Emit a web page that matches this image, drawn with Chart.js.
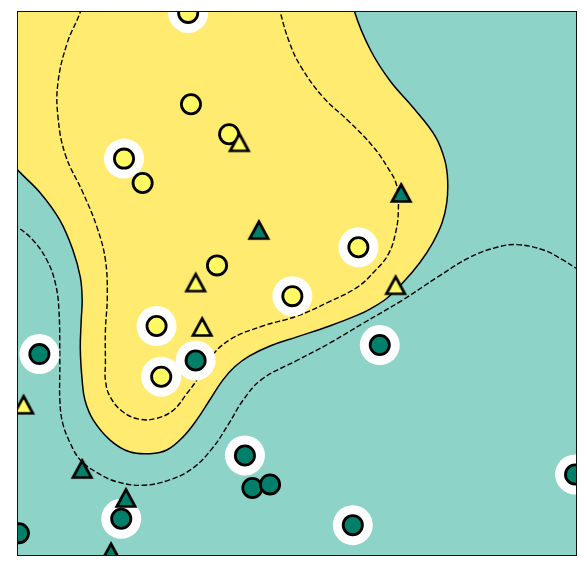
<!DOCTYPE html>
<html>
<head>
<meta charset="utf-8">
<script src="https://cdn.jsdelivr.net/npm/chart.js@4.4.1/dist/chart.umd.min.js"></script>
<style>
  html, body { margin: 0; padding: 0; background: #ffffff; }
  canvas { display: block; }
</style>
</head>
<body>
<canvas id="chart" width="587" height="573"></canvas>
<script>
// ---- axis ranges ----
const xRange = [-3, 3];
const yRange = [-3, 3];

// ---- observations (x, y) ----
const yellowCircles = [
  [-1.17, 2.99], [-1.14, 1.98], [-0.73, 1.65], [-1.86, 1.38], [-1.66, 1.11],
  [-0.86, 0.20], [0.66, 0.40], [-0.05, -0.14], [-1.51, -0.47], [-1.46, -1.03]
];
const yellowTriangles = [
  [-0.62, 1.56], [-1.09, 0.01], [1.06, -0.02], [-1.02, -0.48], [-2.94, -1.34]
];
const tealCircles = [
  [-1.09, -0.85], [-2.77, -0.78], [0.89, -0.68], [-0.56, -1.90], [-0.48, -2.26],
  [-0.29, -2.22], [-1.89, -2.60], [-2.99, -2.76], [0.60, -2.67], [2.99, -2.11]
];
const tealTriangles = [
  [-0.41, 0.59], [1.12, 1.00], [-2.31, -2.05], [-1.84, -2.37], [-2.00, -2.97]
];
const supportVectors = [
  [-1.17, 2.99], [-1.86, 1.38], [0.66, 0.40], [-0.05, -0.14], [-1.51, -0.47],
  [-1.09, -0.85], [-1.46, -1.03], [-2.77, -0.78], [0.89, -0.68], [-0.56, -1.90],
  [-1.89, -2.60], [0.60, -2.67], [2.99, -2.11]
];

// ---- decision function contours (level 0 closed region, levels +1 / -1) ----
const decisionBoundary = [
  [0.59, 3.24], [0.62, 3.00], [0.79, 2.58], [1.00, 2.24], [1.26, 1.93], [1.49, 1.62],
  [1.59, 1.36], [1.62, 1.14], [1.61, 0.89], [1.56, 0.67], [1.46, 0.45], [1.32, 0.23],
  [1.14, 0.01], [0.97, -0.16], [0.79, -0.28], [0.65, -0.35], [0.35, -0.47],
  [0.00, -0.59], [-0.29, -0.69], [-0.51, -0.80], [-0.67, -0.92], [-0.80, -1.07],
  [-0.94, -1.29], [-1.08, -1.51], [-1.23, -1.70], [-1.40, -1.84], [-1.58, -1.88],
  [-1.80, -1.86], [-2.01, -1.73], [-2.19, -1.51], [-2.28, -1.29], [-2.31, -1.07],
  [-2.33, -0.73], [-2.32, -0.40], [-2.31, -0.18], [-2.33, 0.07], [-2.41, 0.37],
  [-2.55, 0.70], [-2.76, 1.00], [-3.00, 1.25], [-3.19, 1.48], [-3.35, 3.35], [0.50, 3.40]
];
const marginPositive = [
  [-2.31, 3.13], [-2.33, 3.00], [-2.47, 2.66], [-2.57, 2.22], [-2.57, 1.84],
  [-2.49, 1.42], [-2.30, 1.00], [-2.15, 0.62], [-2.06, 0.26], [-2.04, -0.15],
  [-2.06, -0.51], [-2.06, -0.88], [-2.06, -1.07], [-2.01, -1.25], [-1.87, -1.42],
  [-1.69, -1.50], [-1.51, -1.49], [-1.33, -1.40], [-1.18, -1.21], [-1.08, -1.07],
  [-0.96, -0.85], [-0.72, -0.62], [-0.37, -0.47], [0.00, -0.36], [0.35, -0.20],
  [0.65, -0.04], [0.83, 0.13], [0.98, 0.32], [1.06, 0.56], [1.09, 0.81],
  [1.07, 1.09], [0.97, 1.29], [0.82, 1.51], [0.57, 1.78], [0.28, 2.06],
  [0.04, 2.40], [-0.08, 2.66], [-0.18, 3.00], [-0.20, 3.13]
];
const marginNegative = [
  [-3.19, 0.75], [-3.00, 0.62], [-2.84, 0.48], [-2.69, 0.26], [-2.60, 0.01],
  [-2.56, -0.29], [-2.55, -0.88], [-2.55, -1.29], [-2.52, -1.54], [-2.44, -1.76],
  [-2.33, -1.95], [-2.15, -2.09], [-1.94, -2.19], [-1.66, -2.23], [-1.37, -2.17],
  [-1.12, -2.04], [-0.91, -1.82], [-0.74, -1.56], [-0.58, -1.29], [-0.38, -1.06],
  [0.00, -0.85], [0.35, -0.66], [0.71, -0.44], [1.14, -0.18], [1.51, 0.07],
  [1.86, 0.29], [2.15, 0.40], [2.37, 0.43], [2.65, 0.37], [2.86, 0.26],
  [3.00, 0.17], [3.15, 0.08]
];

// ---- styles ----
const colors = {
  background: '#8dd3c7',
  region: '#ffeb70',
  yellowPoint: '#fffa64',
  tealPoint: '#00806a',
  ink: '#000000'
};

const toPts = arr => arr.map(([x, y]) => ({ x, y }));

function makeTriangle(fill) {
  const c = document.createElement('canvas');
  c.width = 30; c.height = 30;
  const g = c.getContext('2d');
  g.beginPath();
  g.moveTo(15, 15 - 8.5);
  g.lineTo(15 + 9.2, 15 + 8.5);
  g.lineTo(15 - 9.2, 15 + 8.5);
  g.closePath();
  g.fillStyle = fill;
  g.fill();
  g.lineWidth = 2.7;
  g.lineJoin = 'miter';
  g.strokeStyle = colors.ink;
  g.stroke();
  return c;
}

const framePlugin = {
  id: 'plotFrame',
  beforeDatasetsDraw(chart) {
    const { ctx, chartArea: a } = chart;
    ctx.save();
    ctx.fillStyle = colors.background;
    ctx.fillRect(a.left, a.top, a.right - a.left, a.bottom - a.top);
    ctx.restore();
  },
  afterDatasetsDraw(chart) {
    const { ctx, chartArea: a } = chart;
    ctx.save();
    ctx.strokeStyle = '#111111';
    ctx.lineWidth = 1;
    ctx.strokeRect(Math.round(a.left) - 0.5, Math.round(a.top) - 0.5,
                   Math.round(a.right - a.left) + 1, Math.round(a.bottom - a.top) + 1);
    ctx.restore();
  }
};

const hiddenAxis = (range) => ({
  type: 'linear',
  display: false,
  min: range[0],
  max: range[1]
});

new Chart(document.getElementById('chart'), {
  type: 'scatter',
  data: {
    datasets: [
      {
        type: 'line', label: 'decision region', data: toPts(decisionBoundary),
        fill: 'shape', backgroundColor: colors.region, borderColor: colors.ink,
        borderWidth: 1.5, pointRadius: 0, tension: 0.4, capBezierPoints: false, order: 10
      },
      {
        type: 'line', label: 'margin +1', data: toPts(marginPositive),
        fill: false, borderColor: colors.ink, borderWidth: 1.4, borderDash: [5.5, 2.4],
        pointRadius: 0, tension: 0.4, capBezierPoints: false, order: 9
      },
      {
        type: 'line', label: 'margin -1', data: toPts(marginNegative),
        fill: false, borderColor: colors.ink, borderWidth: 1.4, borderDash: [5.5, 2.4],
        pointRadius: 0, tension: 0.4, capBezierPoints: false, order: 8
      },
      {
        label: 'support vectors', data: toPts(supportVectors),
        pointRadius: 20, backgroundColor: '#ffffff', borderWidth: 0, clip: 0, order: 5
      },
      {
        label: 'class 1', data: toPts(yellowCircles),
        pointRadius: 9.6, backgroundColor: colors.yellowPoint, borderColor: colors.ink,
        borderWidth: 2.8, clip: 0, order: 3
      },
      {
        label: 'class 0', data: toPts(tealCircles),
        pointRadius: 9.6, backgroundColor: colors.tealPoint, borderColor: colors.ink,
        borderWidth: 2.8, clip: 0, order: 3
      },
      {
        label: 'class 1 (test)', data: toPts(yellowTriangles),
        pointStyle: makeTriangle(colors.yellowPoint), pointRadius: 10, clip: 0, order: 1
      },
      {
        label: 'class 0 (test)', data: toPts(tealTriangles),
        pointStyle: makeTriangle(colors.tealPoint), pointRadius: 10, clip: 0, order: 1
      }
    ]
  },
  options: {
    responsive: false,
    animation: false,
    events: [],
    layout: { autoPadding: false, padding: { left: 18, top: 12, right: 11, bottom: 18 } },
    plugins: { legend: { display: false }, tooltip: { enabled: false } },
    scales: {
      x: hiddenAxis(xRange),
      y: hiddenAxis(yRange)
    }
  },
  plugins: [framePlugin]
});
</script>
</body>
</html>
